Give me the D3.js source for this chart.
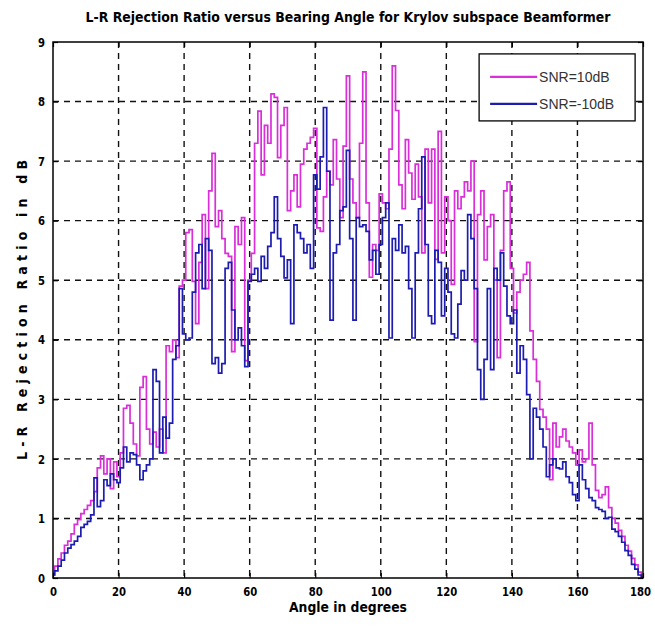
<!DOCTYPE html>
<html>
<head>
<meta charset="utf-8">
<script src="https://cdn.jsdelivr.net/npm/d3@7"></script>
<style>
  body { margin: 0; background: #fff; }
  .lbl { font-family: "Liberation Sans Narrow", "DejaVu Sans Condensed", "Liberation Sans", sans-serif; font-weight: bold; fill: #000; }
</style>
</head>
<body>
<div id="chart"></div>
<script>
// angle in degrees, one sample per degree
const angles = d3.range(0, 181);

// L-R rejection ratio, SNR = 10 dB
const snrHigh = [
  0.05, 0.2, 0.32, 0.42, 0.55, 0.62, 0.74, 0.9, 0.98, 1.08,
  1.15, 1.22, 1.3, 1.45, 1.85, 2.05, 1.75, 2.0, 1.5, 1.95,
  1.7, 2.1, 2.85, 2.9, 2.6, 2.25, 2.05, 3.2, 3.38, 2.5,
  2.25, 2.45, 2.2, 2.5, 2.1, 3.9, 3.8, 4.0, 3.7, 4.9,
  5.0, 5.8, 5.85, 4.98, 4.27, 5.3, 6.1, 4.86, 6.5, 7.13,
  5.9, 6.17, 5.7, 5.45, 5.4, 3.8, 5.9, 5.6, 6.05, 3.65,
  5.0, 5.45, 7.3, 7.84, 6.77, 7.6, 7.3, 8.13, 8.07, 7.06,
  7.6, 7.9, 6.17, 6.5, 6.77, 6.23, 6.95, 7.2, 7.3, 7.4,
  7.55, 5.88, 5.82, 6.4, 6.83, 6.6, 7.36, 6.7, 6.05, 7.25,
  8.43, 6.7, 6.3, 6.05, 7.3, 8.5, 6.3, 5.05, 5.6, 5.5,
  6.45, 6.3, 6.2, 7.2, 8.6, 7.85, 6.6, 6.2, 7.36, 6.8,
  6.36, 6.95, 6.4, 5.46, 7.2, 6.3, 7.2, 5.35, 7.5, 5.46,
  6.4, 6.0, 4.93, 6.5, 6.2, 6.4, 6.65, 6.5, 7.0, 3.97,
  6.1, 6.5, 5.34, 5.9, 6.1, 5.0, 3.7, 5.5, 6.5, 6.65,
  5.2, 4.45, 4.8, 5.0, 5.1, 5.3, 4.15, 3.67, 3.3, 2.83,
  2.7, 2.5, 1.65, 2.6, 2.2, 2.37, 2.5, 2.3, 2.2, 2.1,
  1.9, 2.15, 1.95, 2.0, 2.6, 1.9, 1.47, 1.35, 1.4, 1.53,
  1.18, 1.0, 0.92, 0.8, 0.7, 0.55, 0.45, 0.33, 0.22, 0.1,
  0.02
];

// L-R rejection ratio, SNR = -10 dB
const snrLow = [
  0.05, 0.12, 0.2, 0.3, 0.42, 0.5, 0.56, 0.62, 0.7, 0.85,
  0.9, 0.95, 1.06, 1.68, 1.2, 1.3, 1.65, 1.55, 1.75, 1.65,
  1.6, 1.85, 2.2, 1.95, 2.1, 2.07, 1.9, 1.65, 1.8, 1.9,
  2.0, 3.5, 3.3, 2.1, 2.7, 2.35, 2.6, 3.67, 3.9, 4.86,
  4.1, 4.0, 4.03, 4.8, 5.46, 5.6, 4.86, 5.7, 5.5, 3.6,
  3.7, 3.44, 3.6, 5.2, 5.3, 4.5, 4.0, 4.2, 3.9, 3.55,
  4.98, 5.1, 5.2, 4.98, 5.4, 5.2, 5.57, 5.8, 6.4, 5.7,
  5.4, 5.04, 5.34, 4.27, 5.93, 5.8, 5.7, 5.46, 5.6, 5.2,
  6.77, 6.53, 7.07, 7.9, 6.83, 4.33, 5.46, 5.6, 6.17, 6.23,
  7.18, 5.7, 4.33, 6.05, 5.9, 5.93, 5.82, 5.34, 5.5, 5.1,
  5.6, 6.05, 6.3, 4.03, 5.7, 5.5, 5.93, 5.46, 5.57, 4.86,
  4.03, 5.46, 6.2, 7.07, 5.6, 4.4, 4.27, 5.5, 5.3, 4.4,
  5.2, 4.8, 4.1, 4.03, 4.6, 5.16, 5.0, 6.1, 5.7, 4.86,
  3.5, 3.0, 3.67, 4.86, 3.5, 5.2, 5.0, 5.46, 4.9, 4.4,
  4.27, 4.5, 3.44, 3.9, 3.67, 3.08, 2.0, 2.85, 2.7, 2.5,
  2.2, 1.7, 1.9, 2.0, 1.85, 1.83, 1.95, 1.7, 1.6, 1.4,
  1.3, 1.9, 1.65, 1.5, 1.35, 1.3, 1.18, 1.15, 1.12, 1.0,
  1.02, 0.82, 0.78, 0.7, 0.6, 0.46, 0.38, 0.23, 0.15, 0.05,
  0.0
];

const seriesNames = ["SNR=10dB", "SNR=-10dB"];
const seriesColors = ["#d92ed9", "#1c1cb0"];
const xTicks = [0, 20, 40, 60, 80, 100, 120, 140, 160, 180];
const yTicks = [0, 1, 2, 3, 4, 5, 6, 7, 8, 9];

const width = 655, height = 640;
const margin = {top: 42, right: 12, bottom: 62, left: 53};
const plotW = width - margin.left - margin.right;
const plotH = height - margin.top - margin.bottom;

const svg = d3.select("#chart").append("svg")
    .attr("width", width)
    .attr("height", height);

const g = svg.append("g")
    .attr("transform", `translate(${margin.left},${margin.top})`);

const x = d3.scaleLinear().domain([0, 180]).range([0, plotW]);
const y = d3.scaleLinear().domain([0, 9]).range([plotH, 0]);

// dashed grid
g.append("g").selectAll("line")
    .data(xTicks.slice(1, -1))
    .join("line")
    .attr("x1", d => x(d)).attr("x2", d => x(d))
    .attr("y1", 0).attr("y2", plotH)
    .attr("stroke", "#111").attr("stroke-width", 1.4)
    .attr("stroke-dasharray", "6,5");

g.append("g").selectAll("line")
    .data(yTicks.slice(1, -1))
    .join("line")
    .attr("x1", 0).attr("x2", plotW)
    .attr("y1", d => y(d)).attr("y2", d => y(d))
    .attr("stroke", "#111").attr("stroke-width", 1.4)
    .attr("stroke-dasharray", "6,5");

// data lines
const line = d3.line()
    .x((d, i) => x(angles[i]))
    .y(d => y(d))
    .curve(d3.curveStep);

[snrHigh, snrLow].forEach((vals, k) => {
    g.append("path")
        .datum(vals)
        .attr("fill", "none")
        .attr("stroke", seriesColors[k])
        .attr("stroke-width", 1.7)
        .attr("stroke-linejoin", "miter")
        .attr("d", line);
});

// axes with inward ticks (all four sides)
const fmt = d3.format("d");
const xAxis = g.append("g")
    .attr("transform", `translate(0,${plotH})`)
    .call(d3.axisBottom(x).tickValues(xTicks).tickSizeInner(-5).tickSizeOuter(0).tickPadding(9).tickFormat(fmt));
const yAxis = g.append("g")
    .call(d3.axisLeft(y).tickValues(yTicks).tickSizeInner(-5).tickSizeOuter(0).tickPadding(8).tickFormat(fmt));
g.append("g")
    .call(d3.axisTop(x).tickValues(xTicks).tickSizeInner(-5).tickSizeOuter(0).tickFormat(""));
g.append("g")
    .attr("transform", `translate(${plotW},0)`)
    .call(d3.axisRight(y).tickValues(yTicks).tickSizeInner(-5).tickSizeOuter(0).tickFormat(""));

g.selectAll(".domain").remove();
g.selectAll(".tick line").attr("stroke", "#000").attr("stroke-width", 1.2);
[xAxis, yAxis].forEach(ax => ax.selectAll("text")
    .attr("class", "lbl")
    .style("font-size", "13px")
    .attr("textLength", d => String(d).length * 7)
    .attr("lengthAdjust", "spacingAndGlyphs"));
// keep the last x label inside the page
xAxis.selectAll(".tick text").filter(d => d === 180).attr("dx", "-3");

// plot frame
g.append("rect")
    .attr("width", plotW).attr("height", plotH)
    .attr("fill", "none").attr("stroke", "#000").attr("stroke-width", 1.5);

// legend
const legend = g.append("g")
    .attr("transform", `translate(${x(130)},${y(8.8)})`);
legend.append("rect")
    .attr("width", 156).attr("height", 67)
    .attr("fill", "#fff").attr("stroke", "#000").attr("stroke-width", 1.3);
seriesNames.forEach((name, k) => {
    const ly = 23 + k * 27;
    legend.append("line")
        .attr("x1", 11).attr("x2", 58)
        .attr("y1", ly).attr("y2", ly)
        .attr("stroke", seriesColors[k]).attr("stroke-width", 2.2);
    legend.append("text")
        .attr("x", 60).attr("y", ly + 5)
        .style("font-family", "'Liberation Sans', Arial, sans-serif")
        .style("font-size", "14px")
        .attr("fill", "#333")
        .text(name);
});

// titles
svg.append("text")
    .attr("class", "lbl")
    .attr("x", margin.left + plotW / 2).attr("y", 22)
    .attr("text-anchor", "middle")
    .style("font-size", "14px")
    .attr("textLength", 525).attr("lengthAdjust", "spacingAndGlyphs")
    .text("L-R Rejection Ratio versus Bearing Angle for Krylov subspace Beamformer");

svg.append("text")
    .attr("class", "lbl")
    .attr("x", margin.left + plotW / 2).attr("y", 612)
    .attr("text-anchor", "middle")
    .style("font-size", "14px")
    .attr("textLength", 118).attr("lengthAdjust", "spacingAndGlyphs")
    .text("Angle in degrees");

svg.append("text")
    .attr("class", "lbl")
    .attr("transform", `translate(27,${margin.top + plotH / 2}) rotate(-90)`)
    .attr("text-anchor", "middle")
    .style("font-size", "14px")
    .attr("textLength", 300).attr("lengthAdjust", "spacing")
    .text("L-R Rejection Ratio in dB");
</script>
</body>
</html>
